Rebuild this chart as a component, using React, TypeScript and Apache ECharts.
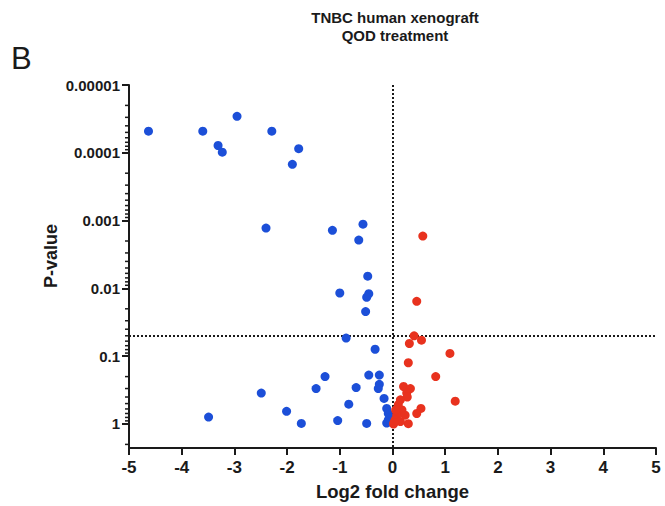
import React, { useEffect, useRef } from 'react';
import * as echarts from 'echarts';

const panelLetter = 'B';
const titleLines = ['TNBC human xenograft', 'QOD treatment'];
const xAxisName = 'Log2 fold change';
const yAxisName = 'P-value';

const xMin = -5;
const xMax = 5;
const yTop = 0.00001;
const yBottom = 2.26;
const yMajorTicks = [0.00001, 0.0001, 0.001, 0.01, 0.1, 1];
const yTickLabels = ['0.00001', '0.0001', '0.001', '0.01', '0.1', '1'];
const yMinorMultipliers = [2, 3, 4, 5, 6, 7, 8, 9];

const fcThreshold = 0;
const pThreshold = 0.05;

// Down-regulated (blue)
const blueX = [-4.63, -3.6, -3.31, -3.23, -2.95, -2.29, -1.78, -1.9, -2.4, -1.14, -0.56, -0.64, -0.47, -1.0, -0.45, -0.49, -0.51, -0.88, -0.33, -1.28, -0.45, -0.25, -0.25, -0.27, -0.69, -1.45, -2.49, -0.16, -0.83, -0.11, -2.01, -3.49, -0.08, -0.08, -1.73, -1.04, -0.49, -0.11, -0.05, -0.03];
const blueP = [4.8e-5, 4.8e-5, 7.8e-5, 9.8e-5, 2.9e-5, 4.8e-5, 8.7e-5, 1.48e-4, 1.29e-3, 1.39e-3, 1.13e-3, 1.94e-3, 6.6e-3, 0.0117, 0.012, 0.0135, 0.022, 0.054, 0.079, 0.2, 0.19, 0.19, 0.26, 0.3, 0.29, 0.3, 0.35, 0.42, 0.51, 0.59, 0.65, 0.79, 0.7, 0.87, 0.98, 0.89, 0.98, 0.97, 0.8, 0.93];

// Up-regulated (red)
const redX = [0.575, 0.46, 0.41, 0.55, 0.32, 1.09, 0.3, 0.82, 1.19, 0.21, 0.34, 0.27, 0.28, 0.54, 0.46, 0.3, 0.11, 0.18, 0.08, 0.24, 0.05, 0.15, 0.02, 0.06, 0.15, 0.03];
const redP = [1.69e-3, 0.0155, 0.05, 0.058, 0.065, 0.091, 0.125, 0.2, 0.46, 0.28, 0.3, 0.35, 0.4, 0.59, 0.7, 0.99, 0.52, 0.62, 0.74, 0.74, 0.87, 0.92, 1.0, 0.62, 0.44, 0.95];

const BLUE = '#1c4fd8';
const RED = '#e8321e';
const INK = '#1a1a1a';
const FONT = '"Liberation Sans", Arial, sans-serif';

function yLabel(v: number): string {
  const e = Math.log10(v);
  const idx = yMajorTicks.findIndex((t) => Math.abs(Math.log10(t) - e) < 1e-6);
  return idx >= 0 ? yTickLabels[idx] : '';
}

export default function App() {
  const ref = useRef<HTMLDivElement>(null);

  useEffect(() => {
    if (!ref.current) return;
    const chart = echarts.init(ref.current, undefined, { renderer: 'svg' });

    const minorTicks: number[] = [];
    yMajorTicks.forEach((t) => {
      yMinorMultipliers.forEach((m) => {
        const v = t * m;
        if (v < yBottom) minorTicks.push(v);
      });
    });

    const staticGraphics: any[] = [
      {
        type: 'text',
        left: 11,
        top: 43,
        style: { text: panelLetter, fontSize: 31, fontFamily: FONT, fill: INK },
      },
      {
        type: 'text',
        x: 395,
        y: 8,
        style: {
          text: titleLines.join('\n'),
          textAlign: 'center',
          fontSize: 15,
          fontWeight: 'bold',
          lineHeight: 18,
          fontFamily: FONT,
          fill: INK,
        },
      },
      {
        type: 'text',
        x: 51,
        y: 256,
        rotation: Math.PI / 2,
        style: {
          text: yAxisName,
          textAlign: 'center',
          textVerticalAlign: 'middle',
          fontSize: 18,
          fontWeight: 'bold',
          fontFamily: FONT,
          fill: INK,
        },
      },
    ];

    chart.setOption({
      animation: false,
      backgroundColor: '#ffffff',
      textStyle: { fontFamily: FONT },
      grid: { left: 129, right: 9, top: 85, bottom: 58, containLabel: false },
      graphic: staticGraphics,
      xAxis: {
        type: 'value',
        min: xMin,
        max: xMax,
        interval: 1,
        name: xAxisName,
        nameLocation: 'middle',
        nameGap: 34,
        nameTextStyle: { fontSize: 18.5, fontWeight: 'bold', color: INK, fontFamily: FONT },
        axisLine: { show: true, onZero: false, lineStyle: { color: INK, width: 2 } },
        axisTick: { show: true, length: 7, lineStyle: { color: INK, width: 2 } },
        axisLabel: { fontSize: 17, fontWeight: 'bold', color: INK, margin: 11, fontFamily: FONT },
        splitLine: { show: false },
      },
      yAxis: {
        type: 'log',
        logBase: 10,
        inverse: true,
        min: yTop,
        max: yBottom,
        position: 'left',
        splitLine: { show: false },
        axisLine: { show: true, onZero: false, lineStyle: { color: INK, width: 2 } },
        axisTick: { show: true, length: 7, customValues: yMajorTicks, lineStyle: { color: INK, width: 2 } },
        axisLabel: {
          show: true,
          customValues: yMajorTicks,
          formatter: (v: number) => yLabel(v),
          fontSize: 15,
          fontWeight: 'bold',
          color: INK,
          margin: 9,
          fontFamily: FONT,
        },
      },
      series: [
        {
          type: 'scatter',
          name: 'down',
          symbol: 'circle',
          symbolSize: 9,
          itemStyle: { color: BLUE, opacity: 1 },
          data: blueX.map((x, i) => [x, blueP[i]]),
          z: 3,
        },
        {
          type: 'scatter',
          name: 'up',
          symbol: 'circle',
          symbolSize: 9,
          itemStyle: { color: RED, opacity: 1 },
          data: redX.map((x, i) => [x, redP[i]]),
          z: 4,
          markLine: {
            silent: true,
            symbol: ['none', 'none'],
            label: { show: false },
            lineStyle: { color: INK, type: [2, 2], width: 2 },
            data: [{ xAxis: fcThreshold }, { yAxis: pThreshold }],
            z: 1,
          },
        },
      ],
    });

    // minor log ticks on the y axis
    const axisX = chart.convertToPixel({ xAxisIndex: 0 }, xMin) as number;
    const minorLines = minorTicks.map((v) => {
      const py = chart.convertToPixel({ yAxisIndex: 0 }, v) as number;
      return {
        type: 'line',
        shape: { x1: axisX - 4, y1: py, x2: axisX, y2: py },
        style: { stroke: INK, lineWidth: 1.5 },
        silent: true,
      };
    });
    chart.setOption({ graphic: [...staticGraphics, ...minorLines] });

    return () => chart.dispose();
  }, []);

  return (
    <div
      ref={ref}
      style={{ position: 'fixed', left: 0, top: 0, width: 665, height: 506 }}
    />
  );
}
